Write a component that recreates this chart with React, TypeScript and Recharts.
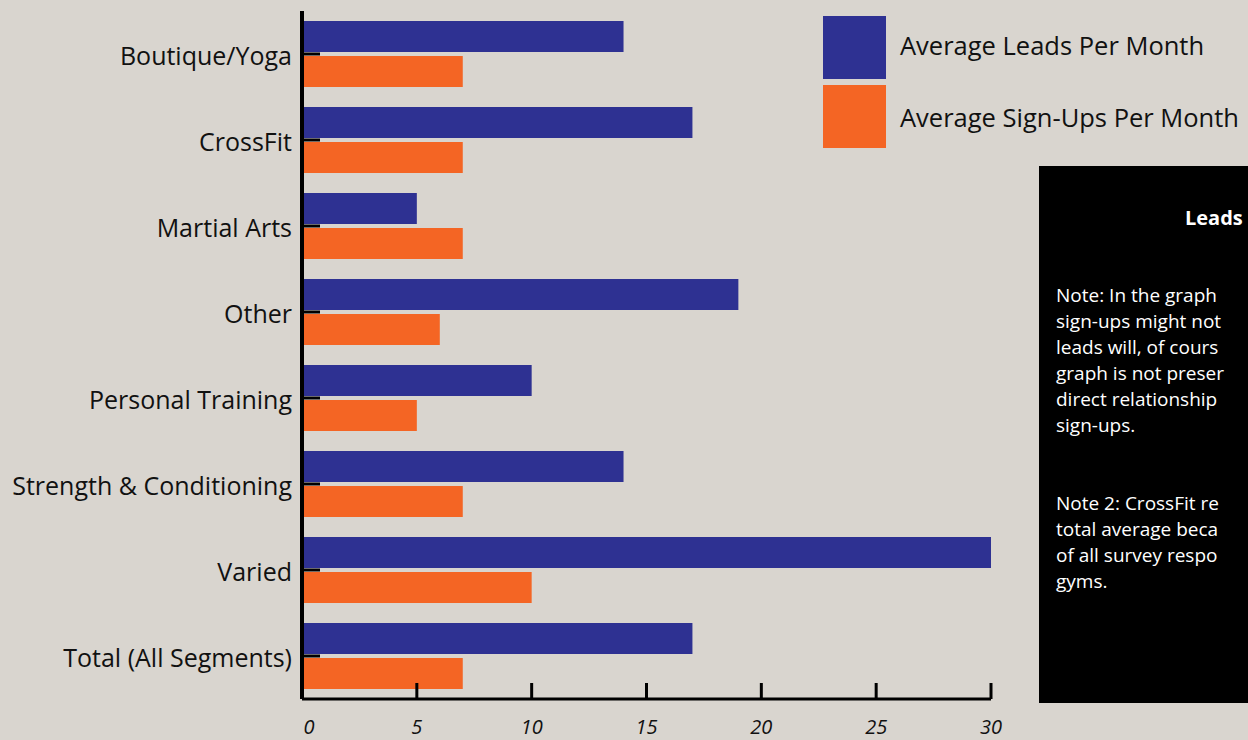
import React from 'react'
import { BarChart, Bar, XAxis, YAxis } from 'recharts'

const categories = [
  'Boutique/Yoga',
  'CrossFit',
  'Martial Arts',
  'Other',
  'Personal Training',
  'Strength & Conditioning',
  'Varied',
  'Total (All Segments)',
]
const leadsPerMonth = [14, 17, 5, 19, 10, 14, 30, 17]
const signUpsPerMonth = [7, 7, 7, 6, 5, 7, 10, 7]
const xTicks = [0, 5, 10, 15, 20, 25, 30]

const seriesNames = ['Average Leads Per Month', 'Average Sign-Ups Per Month']
const seriesColors = ['#2e3192', '#f46524']

const noteTitle = 'Leads'
const noteLines = [
  'Note: In the graph',
  'sign-ups might not',
  'leads will, of cours',
  'graph is not preser',
  'direct relationship',
  'sign-ups.',
  '',
  '',
  'Note 2: CrossFit re',
  'total average beca',
  'of all survey respo',
  'gyms.',
]

const FONT = '"Open Sans", sans-serif'

const chartData = categories.map((name, i) => ({
  name,
  leads: leadsPerMonth[i],
  signups: signUpsPerMonth[i],
}))

const XTick = (props: any) => {
  const { x, y, payload, index } = props
  return (
    <g>
      <line x1={x} x2={x} y1={y - 16} y2={y} stroke="#000" strokeWidth={3} />
      <text
        x={x + (index === 0 ? 7 : 0)}
        y={y + 35}
        textAnchor="middle"
        fontStyle="italic"
        fontSize={20}
        fontFamily={FONT}
        fill="#111"
      >
        {payload.value}
      </text>
    </g>
  )
}

const YTick = (props: any) => {
  const { x, y, payload } = props
  return (
    <g>
      <line x1={x} x2={x + 18} y1={y} y2={y} stroke="#000" strokeWidth={3} />
      <text
        x={x - 10}
        y={y + 2}
        dy="0.35em"
        textAnchor="end"
        fontSize={25}
        fontFamily={FONT}
        fill="#111"
      >
        {payload.value}
      </text>
    </g>
  )
}

export default function App() {
  return (
    <div
      style={{
        position: 'fixed',
        left: 0,
        top: 0,
        width: 1248,
        height: 740,
        overflow: 'hidden',
        background: '#d9d5cf',
      }}
    >
      <BarChart
        width={1248}
        height={740}
        data={chartData}
        layout="vertical"
        margin={{ top: 11, right: 257, left: 0, bottom: 0 }}
        barCategoryGap={10}
        barGap={4}
      >
        <XAxis
          type="number"
          domain={[0, 30]}
          ticks={xTicks}
          height={41}
          axisLine={{ stroke: '#000', strokeWidth: 3 }}
          tickLine={false}
          tickSize={0}
          tickMargin={0}
          tick={<XTick />}
        />
        <YAxis
          type="category"
          dataKey="name"
          width={302}
          axisLine={{ stroke: '#000', strokeWidth: 4 }}
          tickLine={false}
          tickSize={0}
          tickMargin={0}
          tick={<YTick />}
          interval={0}
        />
        <Bar dataKey="leads" name={seriesNames[0]} fill={seriesColors[0]} isAnimationActive={false} />
        <Bar dataKey="signups" name={seriesNames[1]} fill={seriesColors[1]} isAnimationActive={false} />
      </BarChart>

      {/* legend */}
      <svg width={1248} height={740} style={{ position: 'absolute', left: 0, top: 0, pointerEvents: 'none' }}>
        {seriesNames.map((name, i) => (
          <g key={name}>
            <rect x={823} y={16 + i * 69} width={63} height={63} fill={seriesColors[i]} />
            <text x={900} y={55 + i * 72} fontSize={25.5} fontFamily={FONT} fill="#111">
              {name}
            </text>
          </g>
        ))}

        {/* note box */}
        <rect x={1039} y={166} width={230} height={537} fill="#000" />
        <text x={1185} y={225} fontSize={20} fontWeight="bold" fontFamily={FONT} fill="#fff">
          {noteTitle}
        </text>
        {noteLines.map((line, i) => (
          <text key={i} x={1056} y={302 + i * 26} fontSize={19} fontFamily={FONT} fill="#fff">
            {line}
          </text>
        ))}
      </svg>
    </div>
  )
}
